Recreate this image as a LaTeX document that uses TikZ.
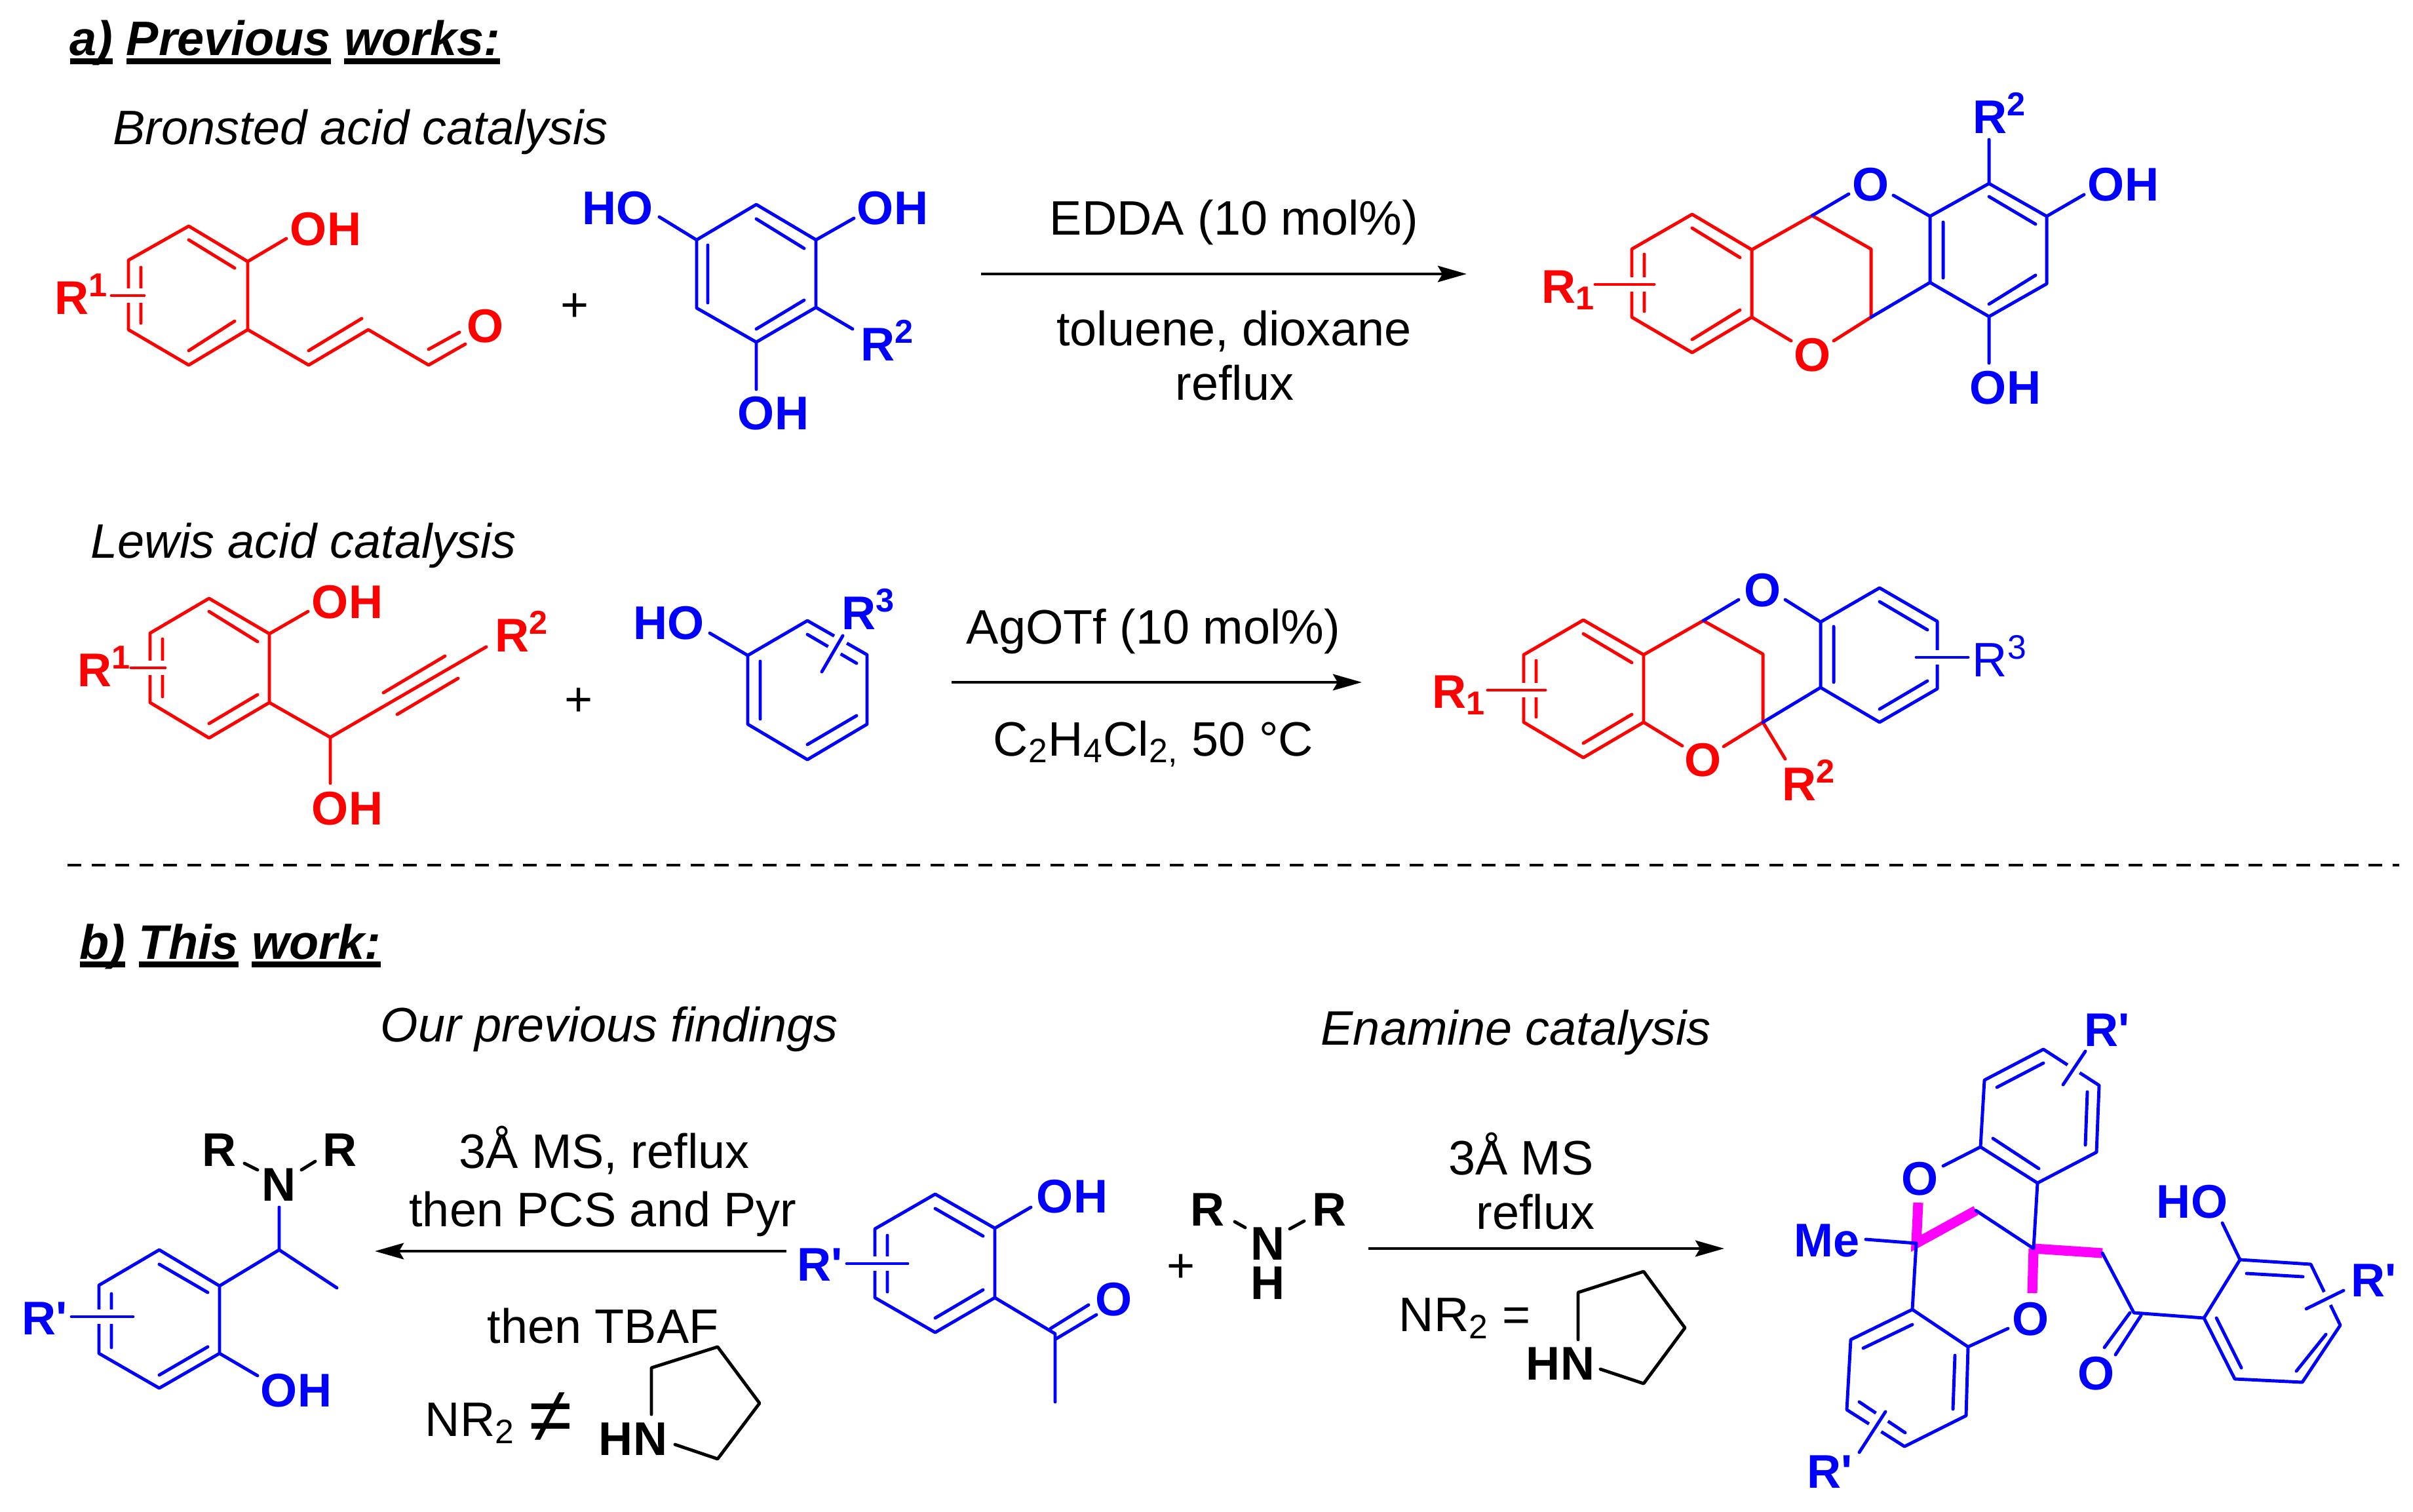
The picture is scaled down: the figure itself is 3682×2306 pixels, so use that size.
\documentclass[tikz,border=0pt]{standalone}
\usepackage{fontspec}
\setmainfont{Liberation Sans}
\newfontfamily\atomfont{Liberation Sans}
\usetikzlibrary{arrows.meta}

\definecolor{pinkline}{RGB}{255,0,255}
\newcommand{\atoms}[1]{\foreach \nm/\px/\py in {#1} {\coordinate (\nm) at (\px,\py);}}
\newcommand{\hdul}[1]{\setbox0\hbox{#1}\rlap{\rule[-3.6pt]{\wd0}{2.5pt}}\box0\relax}

\tikzset{
  redbond/.style={draw=red,line width=1.4pt,line cap=round,line join=round},
  bluebond/.style={draw=blue,line width=1.4pt,line cap=round,line join=round},
  blackbond/.style={draw=black,line width=1.4pt,line cap=round,line join=round},
  pinkbond/.style={draw=pinkline,line width=4.3pt},
  crossing/.style={preaction={draw=white,line width=6.2pt,line cap=butt}},
  rxn/.style={draw=black,line width=1.4pt,-{Stealth[length=12.5pt,width=7pt,inset=2pt]}},
  atom/.style={font=\atomfont\fontsize{20.5}{24}\selectfont\bfseries,inner sep=0pt,anchor=base},
  cond/.style={font=\fontsize{21}{24}\selectfont,inner sep=0pt,anchor=base},
  note/.style={font=\fontsize{21}{24}\selectfont\itshape,inner sep=0pt,anchor=base west},
  head/.style={font=\fontsize{21}{24}\selectfont\bfseries\itshape,inner sep=0pt,anchor=base west}
}

\begin{document}
\begin{tikzpicture}[x=0.01cm,y=-0.01cm]
  \useasboundingbox (0,0) rectangle (3682,2306);

  \node[head] (headA) at (106,85) {\hdul{a)} \hdul{Previous} \hdul{works:}};
  \node[note] (noteA) at (172,221) {Bronsted acid catalysis};
  \node[note] (noteB) at (138,851) {Lewis acid catalysis};
  \node[head] (headB) at (121,1463) {\hdul{b)} \hdul{This} \hdul{work:}};
  \node[note] (noteC) at (580,1589) {Our previous findings};
  \node[note] (noteD) at (2015,1594) {Enamine catalysis};

  \atoms{a1/288/345,a2/378/399,a3/378/503,a4/288/557,a5/196/503,a6/196/397,a7/471/557,a8/562/503,a9/654/557,a10/437/364,a11/170/451,a12/220/451}
  \draw[redbond] (a1) -- (a2) -- (a3) -- (a4) -- (a5) -- (a6) -- cycle;
  \draw[redbond] (a3) -- (a7) -- (a8) -- (a9) -- (710,525);
  \draw[redbond] (a2) -- (a10);
  \draw[redbond] (288,366) -- (358,409) (358,490) -- (288,535) (215,408) -- (215,493) (471,535) -- (552,486) (654,533) -- (701,507);
  \draw[redbond,crossing] (a11) -- (a12);
  \node[atom,text=red] (a13) at (497,374) {OH};
  \node[atom,text=red] (a14) at (741,522) {O};
  \node[atom,text=red,anchor=base west] (a15) at (83,479) {R\textsuperscript{1}};
  \node[cond] (plusA) at (877,490) {+};

  \atoms{b1/1154/312,b2/1245/366,b3/1245/469,b4/1154/522,b5/1063/470,b6/1063/366,b7/1006/331,b8/1303/333,b9/1301/502,b10/1154/594}
  \draw[bluebond] (b1) -- (b2) -- (b3) -- (b4) -- (b5) -- (b6) -- cycle;
  \draw[bluebond] (b6) -- (b7) (b2) -- (b8) (b3) -- (b9) (b4) -- (b10);
  \draw[bluebond] (1154,334) -- (1227,379) (1227,458) -- (1154,502) (1080,374) -- (1080,462);
  \node[atom,text=blue] (b11) at (943,342) {HO};
  \node[atom,text=blue] (b12) at (1362,342) {OH};
  \node[atom,text=blue] (b13) at (1180,655) {OH};
  \node[atom,text=blue,anchor=base west] (b14) at (1313,550) {R\textsuperscript{2}};

  \coordinate (arrAs) at (1497,418);
  \coordinate (arrAe) at (2238,418);
  \draw[rxn] (arrAs) -- (arrAe);
  \node[cond] (condA) at (1883,358) {EDDA (10 mol\%)};
  \node[cond] (condB) at (1883,527) {toluene, dioxane};
  \node[cond] (condC) at (1884,610) {reflux};

  \atoms{c1/2582/327,c2/2673/381,c3/2673/484,c4/2582/538,c5/2490/484,c6/2490/380,c7/2765/329,c8/2855/380,c9/2855/484,c10/2733/520,c11/2798/520,c12/2434/434,c13/2524/434}
  \draw[redbond] (c1) -- (c2) -- (c3) -- (c4) -- (c5) -- (c6) -- cycle;
  \draw[redbond] (c10) -- (c3) (c2) -- (c7) -- (c8) -- (c9) -- (c11);
  \draw[redbond] (2582,348) -- (2655,393) (2655,473) -- (2582,518) (2509,388) -- (2509,475);
  \draw[redbond,crossing] (c12) -- (c13);
  \node[atom,text=red] (c14) at (2765,566) {O};
  \node[atom,text=red,anchor=base west] (c15) at (2352,462) {R\textsubscript{1}};

  \atoms{d1/2945/330,d2/3035/280,d3/3123/330,d4/3123/433,d5/3035/483,d6/2945/431,d7/2821/296,d8/2889/298,d9/3035/213,d10/3180/297,d11/3035/554}
  \draw[bluebond] (d1) -- (d2) -- (d3) -- (d4) -- (d5) -- (d6) -- cycle;
  \draw[bluebond] (c7) -- (d7) (d8) -- (d1) (d6) -- (c9) (d2) -- (d9) (d3) -- (d10) (d5) -- (d11);
  \draw[bluebond] (3035,300) -- (3106,342) (3106,420) -- (3035,464) (2965,339) -- (2965,424);
  \node[atom,text=blue] (d12) at (2854,307) {O};
  \node[atom,text=blue] (d13) at (3240,306) {OH};
  \node[atom,text=blue] (d14) at (3060,616) {OH};
  \node[atom,text=blue,anchor=base west] (d15) at (3010,203) {R\textsuperscript{2}};

  \atoms{e1/319/913,e2/411/967,e3/411/1072,e4/319/1126,e5/229/1072,e6/229/966,e7/504/1125,e8/742/987,e9/470/933,e10/504/1195,e11/200/1019,e12/252/1019}
  \draw[redbond] (e1) -- (e2) -- (e3) -- (e4) -- (e5) -- (e6) -- cycle;
  \draw[redbond] (e3) -- (e7) -- (e8) (e2) -- (e9) (e7) -- (e10);
  \draw[redbond] (319,933) -- (393,979) (393,1060) -- (319,1104) (248,975) -- (248,1063) (585,1057) -- (679,1001) (606,1090) -- (699,1035);
  \draw[redbond,crossing] (e11) -- (e12);
  \node[atom,text=red] (e13) at (530,943) {OH};
  \node[atom,text=red] (e14) at (530,1258) {OH};
  \node[atom,text=red,anchor=base west] (e15) at (118,1047) {R\textsuperscript{1}};
  \node[atom,text=red,anchor=base west] (e16) at (755,994) {R\textsuperscript{2}};
  \node[cond] (plusB) at (883,1092) {+};

  \atoms{f1/1232/947,f2/1323/999,f3/1323/1105,f4/1232/1159,f5/1141/1105,f6/1141/1000,f7/1083/966,f8/1286/970,f9/1254/1025}
  \draw[bluebond] (f1) -- (f2) -- (f3) -- (f4) -- (f5) -- (f6) -- cycle;
  \draw[bluebond] (f6) -- (f7);
  \draw[bluebond] (1232,968) -- (1307,1012) (1307,1092) -- (1232,1136) (1160,1009) -- (1160,1097);
  \draw[bluebond,crossing] (f8) -- (f9);
  \node[atom,text=blue] (f10) at (1021,975) {HO};
  \node[atom,text=blue,anchor=base west] (f11) at (1284,960) {R\textsuperscript{3}};

  \coordinate (arrBs) at (1452,1041);
  \coordinate (arrBe) at (2078,1041);
  \draw[rxn] (arrBs) -- (arrBe);
  \node[cond] (condD) at (1760,982) {AgOTf (10 mol\%)};
  \node[cond] (condE) at (1760,1153) {C\textsubscript{2}H\textsubscript{4}Cl\textsubscript{2,} 50 °C};

  \atoms{g1/2416/946,g2/2508/999,g3/2508/1102,g4/2416/1156,g5/2325/1102,g6/2325/999,g7/2599/947,g8/2690/998,g9/2690/1102,g10/2567/1138,g11/2630/1139,g12/2724/1158,g13/2270/1053,g14/2358/1053}
  \draw[redbond] (g1) -- (g2) -- (g3) -- (g4) -- (g5) -- (g6) -- cycle;
  \draw[redbond] (g10) -- (g3) (g2) -- (g7) -- (g8) -- (g9) -- (g11) (g9) -- (g12);
  \draw[redbond] (2416,967) -- (2490,1011) (2490,1090) -- (2416,1134) (2344,1008) -- (2344,1094);
  \draw[redbond,crossing] (g13) -- (g14);
  \node[atom,text=red] (g15) at (2598,1184) {O};
  \node[atom,text=red,anchor=base west] (g16) at (2185,1080) {R\textsubscript{1}};
  \node[atom,text=red,anchor=base west] (g17) at (2719,1221) {R\textsuperscript{2}};

  \atoms{h1/2778/949,h2/2868/897,h3/2956/948,h4/2956/1051,h5/2868/1102,h6/2778/1049,h7/2653/915,h8/2724/915,h9/2924/1003,h10/3003/1003}
  \draw[bluebond] (h1) -- (h2) -- (h3) -- (h4) -- (h5) -- (h6) -- cycle;
  \draw[bluebond] (g7) -- (h7) (h8) -- (h1) (h6) -- (g9);
  \draw[bluebond] (2868,918) -- (2941,961) (2941,1039) -- (2868,1082) (2798,956) -- (2798,1041);
  \draw[bluebond,crossing] (h9) -- (h10);
  \node[atom,text=blue] (h11) at (2689,925) {O};
  \node[cond,text=blue,anchor=base west] (h12) at (3009,1032) {R\textsuperscript{3}};

  \coordinate (sepL) at (103,1320);
  \coordinate (sepR) at (3661,1320);
  \draw[line width=1.4pt,dash pattern=on 6pt off 4.4pt] (sepL) -- (sepR);

  \atoms{k1/335/1962,k2/243/1907,k3/151/1961,k4/151/2065,k5/243/2118,k6/335/2065,k7/426/1907,k8/514/1965,k9/426/1842,k10/393/2099,k11/109/2009,k12/203/2009,k13/373/1775,k14/393/1785,k15/460/1785,k16/481/1772}
  \draw[bluebond] (k1) -- (k2) -- (k3) -- (k4) -- (k5) -- (k6) -- cycle;
  \draw[bluebond] (k1) -- (k7) -- (k8) (k7) -- (k9) (k6) -- (k10);
  \draw[bluebond] (243,1929) -- (317,1972) (317,2055) -- (243,2098) (170,1974) -- (170,2056);
  \draw[bluebond,crossing] (k11) -- (k12);
  \draw[blackbond] (k13) -- (k14) (k15) -- (k16);
  \node[atom] (k17) at (426,1832) {N};
  \node[atom] (k18) at (335,1779) {R};
  \node[atom] (k19) at (519,1779) {R};
  \node[atom,text=blue,anchor=base west] (k20) at (33,2036) {R\textquotesingle};
  \node[atom,text=blue] (k21) at (452,2146) {OH};

  \coordinate (arrCs) at (1200,1909);
  \coordinate (arrCe) at (572,1909);
  \draw[rxn] (arrCs) -- (arrCe);
  \node[cond] (condF) at (922,1782) {3Å MS, reflux};
  \node[cond] (condG) at (920,1871) {then PCS and Pyr};
  \node[cond] (condH) at (920,2049) {then TBAF};
  \node[cond,anchor=base west] (condI) at (648,2191) {NR\textsubscript{2}};
  \node[font=\fontsize{34}{34}\selectfont,inner sep=0pt] (neq) at (840,2163) {≠};

  \atoms{m1/994/2158,m2/994/2087,m3/1095/2055,m4/1159/2141,m5/1095/2226,m6/1030/2204}
  \draw[blackbond] (m1) -- (m2) -- (m3) -- (m4) -- (m5) -- (m6);
  \node[atom] (m7) at (966,2220) {HN};

  \atoms{n1/1335/1875,n2/1427/1822,n3/1518/1874,n4/1518/1980,n5/1427/2033,n6/1335/1980,n7/1610/2035,n8/1610/2139,n9/1573/1842,n10/1292/1928,n11/1385/1928}
  \draw[bluebond] (n1) -- (n2) -- (n3) -- (n4) -- (n5) -- (n6) -- cycle;
  \draw[bluebond] (n4) -- (n7) -- (n8) (n3) -- (n9);
  \draw[bluebond] (1427,1844) -- (1500,1886) (1500,1968) -- (1427,2011) (1354,1885) -- (1354,1971) (1603,2027) -- (1661,1991) (1611,2043) -- (1673,2006);
  \draw[bluebond,crossing] (n10) -- (n11);
  \node[atom,text=blue] (n12) at (1636,1850) {OH};
  \node[atom,text=blue] (n13) at (1700,2007) {O};
  \node[atom,text=blue,anchor=base west] (n14) at (1216,1954) {R\textquotesingle};
  \node[cond] (plusC) at (1802,1956) {+};

  \atoms{p1/1884/1864,p2/1900/1873,p3/1968/1875,p4/1990/1863}
  \draw[blackbond] (p1) -- (p2) (p3) -- (p4);
  \node[atom] (p5) at (1843,1870) {R};
  \node[atom] (p6) at (2029,1870) {R};
  \node[atom] (p7) at (1935,1922) {N};
  \node[atom] (p8) at (1935,1982) {H};

  \coordinate (arrDs) at (2088,1905);
  \coordinate (arrDe) at (2631,1905);
  \draw[rxn] (arrDs) -- (arrDe);
  \node[cond] (condJ) at (2321,1792) {3Å MS};
  \node[cond] (condK) at (2343,1875) {reflux};
  \node[cond,anchor=base west] (condL) at (2134,2031) {NR\textsubscript{2} =};

  \atoms{q1/2408/2044,q2/2408/1972,q3/2508/1940,q4/2571/2026,q5/2508/2111,q6/2442/2089}
  \draw[blackbond] (q1) -- (q2) -- (q3) -- (q4) -- (q5) -- (q6);
  \node[atom] (q7) at (2381,2105) {HN};

  \atoms{r1/3118/1601,r2/3203/1656,r3/3199/1758,r4/3109/1805,r5/3022/1750,r6/3028/1648,r7/3015/1847,r8/3103/1905,r9/2965/1779,r10/3182/1604,r11/3148/1655}
  \atoms{s1/2918/1998,s2/3003/2055,s3/3000/2160,s4/2906/2207,s5/2818/2151,s6/2824/2044,s7/2924/1897,s8/2847/1891,s9/3064/2027,s10/2877/2154,s11/2837/2216,s12/2927/1835,s13/3101/1973,s14/3208/1912}
  \draw[pinkbond] (s12) -- (s7) -- (r7);
  \draw[pinkbond] (s13) -- (r8);
  \draw[pinkbond] (r8) -- (s14);
  \draw[bluebond] (r1) -- (r2) -- (r3) -- (r4) -- (r5) -- (r6) -- cycle;
  \draw[bluebond] (r4) -- (r8) -- (r7) (r5) -- (r9);
  \draw[bluebond] (3118,1622) -- (3047,1659) (3185,1666) -- (3182,1747) (3041,1737) -- (3111,1783);
  \draw[bluebond,crossing] (r10) -- (r11);
  \node[atom,text=blue] (r12) at (2929,1823) {O};
  \node[atom,text=blue,anchor=base west] (r13) at (3180,1596) {R\textquotesingle};

  \draw[bluebond] (s1) -- (s2) -- (s3) -- (s4) -- (s5) -- (s6) -- cycle;
  \draw[bluebond] (s1) -- (s7) -- (s8) (s2) -- (s9);
  \draw[bluebond] (2918,2021) -- (2843,2057) (2983,2068) -- (2980,2150) (2837,2139) -- (2907,2186);
  \draw[bluebond,crossing] (s10) -- (s11);
  \node[atom,text=blue] (s15) at (3098,2037) {O};
  \node[atom,text=blue,anchor=base west] (s16) at (2737,1917) {Me};
  \node[atom,text=blue,anchor=base west] (s17) at (2757,2270) {R\textquotesingle};

  \atoms{t1/3363/2011,t2/3418/1922,t3/3526/1929,t4/3571/2022,t5/3513/2109,t6/3410/2104,t7/3256/2003,t8/3391/1866,t9/3576/1969,t10/3519/1997}
  \draw[bluebond] (t1) -- (t2) -- (t3) -- (t4) -- (t5) -- (t6) -- cycle;
  \draw[bluebond] (s14) -- (t7) -- (t1) (t2) -- (t8);
  \draw[bluebond] (3250,2003) -- (3211,2056) (3267,2007) -- (3228,2067) (3428,1943) -- (3514,1948) (3549,2036) -- (3504,2092) (3382,2011) -- (3420,2087);
  \draw[bluebond,crossing] (t9) -- (t10);
  \node[atom,text=blue] (t11) at (3198,2120) {O};
  \node[atom,text=blue] (t12) at (3345,1858) {HO};
  \node[atom,text=blue,anchor=base west] (t13) at (3587,1978) {R\textquotesingle};

\end{tikzpicture}
\end{document}
